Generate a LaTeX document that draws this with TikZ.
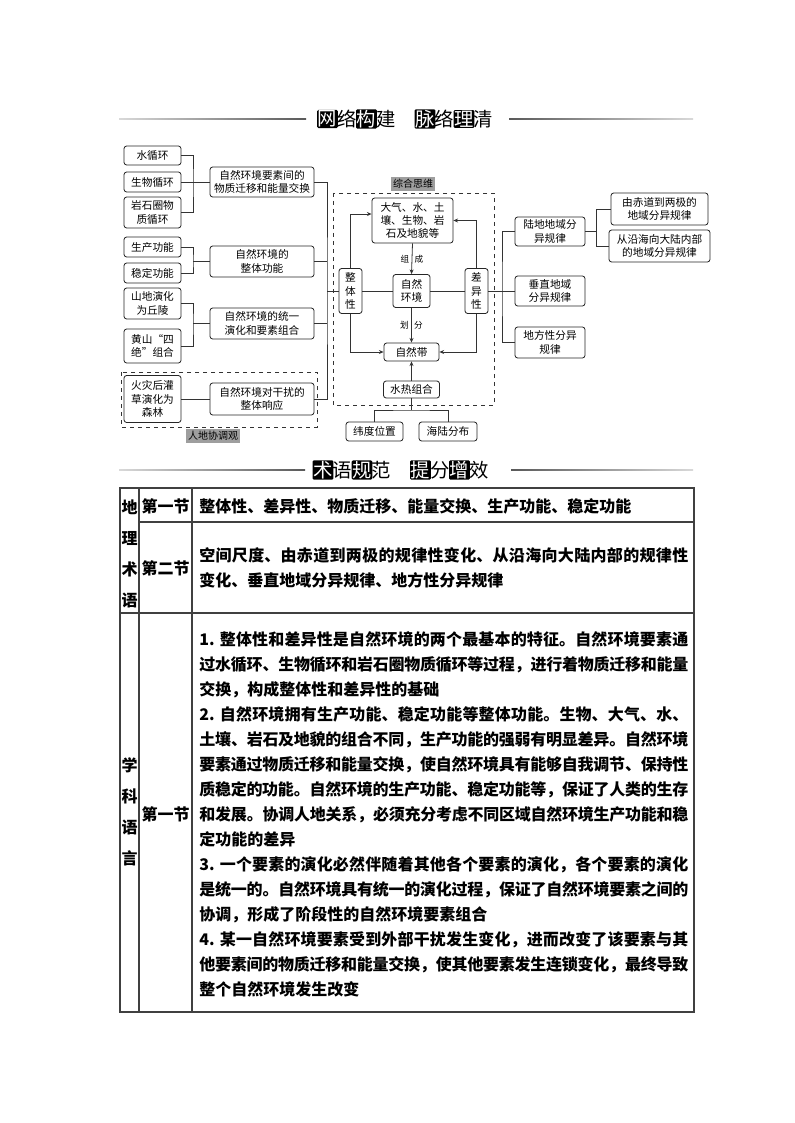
\documentclass[tikz,border=0pt]{standalone}
\usepackage{fontspec}
\newfontfamily\cjk{Noto Sans CJK SC}
\usetikzlibrary{arrows.meta}
\XeTeXlinebreaklocale "zh"
\XeTeXlinebreakskip=0pt plus 2pt minus 0.8pt
\setlength{\parindent}{0pt}
\begin{document}
\begin{tikzpicture}[x=0.75pt,y=-0.75pt,font=\cjk,
  bx/.style={draw=black!85,line width=0.6pt,rounded corners=2pt,align=center,inner sep=0pt,font=\cjk\fontsize{8}{10}\selectfont},
  ln/.style={draw=black!80,line width=0.6pt},
  >={Stealth[length=3.5pt,width=3pt]},
  lbl/.style={inner sep=0pt,font=\cjk\fontsize{6.5}{8}\selectfont},
  tag/.style={fill=black!38,inner sep=1.5pt,font=\cjk\fontsize{7.5}{9}\selectfont},
  frame/.style={draw=black!80,line width=0.6pt,dashed},
  hd/.style={inner sep=0.6pt,font=\cjk\fontsize{14.5}{16}\selectfont},
  hdk/.style={hd,fill=black,text=white,rounded corners=1pt},
  tb/.style={draw=black!75,line width=0.8pt},
  cell/.style={inner sep=0pt,align=left,font=\cjk\bfseries\fontsize{12}{18.75}\selectfont},
  para/.style={cell,anchor=west,text width=366.75pt,align=justify}]
\fill[white] (0,0) rectangle (794,1123);
\useasboundingbox (0,0) rectangle (794,1123);
% header 1
\shade[left color=black!15,right color=black!65] (119,118.2) rectangle (306,119.8);
\shade[left color=black!65,right color=black!15] (509,118.2) rectangle (693,119.8);
\node[hdk] (h1a) at (327.5,119) {网}; \node[hd] (h1b) at (347,119) {络}; \node[hdk] (h1c) at (366.5,119) {构}; \node[hd] (h1d) at (386,119) {建};
\node[hdk] (h1e) at (425,119) {脉}; \node[hd] (h1f) at (444.5,119) {络}; \node[hdk] (h1g) at (464,119) {理}; \node[hd] (h1h) at (483.5,119) {清};
% left column
\node[bx,minimum width=42.75pt,minimum height=14.25pt] (sxh) at (152.5,155.5) {水循环};
\node[bx,minimum width=42.75pt,minimum height=15pt] (swxh) at (152.5,182) {生物循环};
\node[bx,minimum width=42.75pt,minimum height=23.25pt] (ysq) at (152.5,212.5) {岩石圈物\\质循环};
\node[bx,minimum width=42.75pt,minimum height=15pt] (scgn) at (152.5,247) {生产功能};
\node[bx,minimum width=42.75pt,minimum height=15pt] (wdgn) at (152.5,273) {稳定功能};
\node[bx,minimum width=42.75pt,minimum height=23.25pt] (sdyh) at (152.5,303.5) {山地演化\\为丘陵};
\node[bx,minimum width=42.75pt,minimum height=25.5pt] (hsjs) at (152.5,346) {黄山“四\\绝”组合};
\node[bx,minimum width=42.75pt,minimum height=35.25pt] (hzh) at (152.5,399) {火灾后灌\\草演化为\\森林};
% middle column
\node[bx,minimum width=78pt,minimum height=22.5pt] (wzqy) at (262,182) {自然环境要素间的\\物质迁移和能量交换};
\node[bx,minimum width=78pt,minimum height=23.25pt] (ztgn) at (262,261.5) {自然环境的\\整体功能};
\node[bx,minimum width=78pt,minimum height=23.25pt] (tyyh) at (262,323.5) {自然环境的统一\\演化和要素组合};
\node[bx,minimum width=78pt,minimum height=24pt] (grxy) at (262,399) {自然环境对干扰的\\整体响应};
\coordinate (g1) at (193,182); \coordinate (g2) at (193,261.5); \coordinate (g3) at (193,323.5);
\draw[ln] (sxh.east) -| (g1) |- (ysq.east); \draw[ln] (swxh.east) -- (wzqy.west);
\draw[ln] (scgn.east) -| (g2) |- (wdgn.east); \draw[ln] (g2) -- (ztgn.west);
\draw[ln] (sdyh.east) -| (g3) |- (hsjs.east); \draw[ln] (g3) -- (tyyh.west);
\draw[ln] (hzh.east) -- (grxy.west);
\draw[frame] (121,372) rectangle (317,427);
\node[tag] (rdxt) at (213,436) {人地协调观};
% centre
\draw[frame] (333,193) rectangle (494,405);
\node[tag] (zhsw) at (413,184) {综合思维};
\node[bx,minimum width=60.75pt,minimum height=33.75pt] (dq) at (412.5,220.5) {大气、水、土\\壤、生物、岩\\石及地貌等};
\node[bx,minimum width=17.25pt,minimum height=33.75pt] (ztx) at (350.5,291) {整\\体\\性};
\node[bx,minimum width=27.75pt,minimum height=24.75pt] (zrhj) at (411.5,291) {自然\\环境};
\node[bx,minimum width=17.25pt,minimum height=33.75pt] (cyx) at (476.5,291) {差\\异\\性};
\node[bx,minimum width=41.25pt,minimum height=13.5pt] (zrd) at (411.5,352) {自然带};
\node[bx,minimum width=42pt,minimum height=12.75pt] (srzh) at (411.5,389.5) {水热组合};
\node[bx,minimum width=42.75pt,minimum height=14.25pt] (wdwz) at (374.5,431.5) {纬度位置};
\node[bx,minimum width=43.5pt,minimum height=14.25pt] (hlfb) at (448,431.5) {海陆分布};
\coordinate (g5) at (327,291); \coordinate (g6) at (411.5,410);
\draw[ln] (wzqy.east) -| (g5) |- (grxy.east); \draw[ln] (ztgn.east) -- (ztgn.east -| g5); \draw[ln] (tyyh.east) -- (tyyh.east -| g5);
\draw[ln] (g5) -- (ztx.west); \draw[ln] (ztx) -- (zrhj); \draw[ln] (zrhj) -- (cyx);
\draw[ln,->] (ztx.north) |- (dq.171); \draw[ln,->] (cyx.north) |- (dq.east);
\draw[ln,->] (ztx.south) |- (zrd.west); \draw[ln,->] (cyx.south) |- (zrd.east);
\draw[ln,->] (dq.south) -- node[lbl]{组\hspace{4pt}成} (zrhj.north);
\draw[ln,->] (zrhj.south) -- node[lbl]{划\hspace{4pt}分} (zrd.north);
\draw[ln,->] (srzh) -- (zrd);
\draw[ln] (srzh.south) -- (g6); \draw[ln] (wdwz.north) |- (g6) -| (hlfb.north);
% right column
\node[bx,minimum width=52.5pt,minimum height=21.75pt] (ldfy) at (550,231.5) {陆地地域分\\异规律};
\node[bx,minimum width=52.5pt,minimum height=22.5pt] (czfy) at (550,291) {垂直地域\\分异规律};
\node[bx,minimum width=52.5pt,minimum height=23.25pt] (dfx) at (550,342.5) {地方性分异\\规律};
\node[bx,minimum width=72.75pt,minimum height=24pt] (cdlj) at (659.5,209) {由赤道到两极的\\地域分异规律};
\node[bx,minimum width=75.75pt,minimum height=24pt] (yhnl) at (659.5,246) {从沿海向大陆内部\\的地域分异规律};
\coordinate (g7) at (502,291); \coordinate (g8) at (596,231.5);
\draw[ln] (cyx) -- (czfy); \draw[ln] (ldfy.west) -| (g7) |- (dfx.west);
\draw[ln] (ldfy) -- (g8); \draw[ln] (cdlj.west) -| (g8) |- (yhnl.west);
% header 2
\shade[left color=black!15,right color=black!65] (119,469.2) rectangle (305,470.8);
\shade[left color=black!65,right color=black!15] (511,469.2) rectangle (693,470.8);
\node[hdk] (h2a) at (323,470) {术}; \node[hd] (h2b) at (342.5,470) {语}; \node[hdk] (h2c) at (362,470) {规}; \node[hd] (h2d) at (381.5,470) {范};
\node[hdk] (h2e) at (420.5,470) {提}; \node[hd] (h2f) at (440,470) {分}; \node[hdk] (h2g) at (459.5,470) {增}; \node[hd] (h2h) at (479,470) {效};
% table
\draw[tb] (120,488) rectangle (694,1012);
\draw[tb] (139,488) -- (139,1012); \draw[tb] (192,488) -- (192,1012);
\draw[tb] (139,522) -- (694,522); \draw[tb] (120,613) -- (694,613);
\node[cell,font=\cjk\bfseries\fontsize{12}{23.25}\selectfont] (dlsy) at (129.5,553.5) {地\\理\\术\\语};
\node[cell,font=\cjk\bfseries\fontsize{12}{23.25}\selectfont] (xkyy) at (129.5,812) {学\\科\\语\\言};
\node[cell] (j1) at (165.5,506) {第一节}; \node[cell] (j2) at (165.5,568) {第二节}; \node[cell] (j3) at (165.5,814) {第一节};
\node[cell,anchor=west] (t1) at (199,506) {整体性、差异性、物质迁移、能量交换、生产功能、稳定功能};
\node[para] (t2) at (199,568) {空间尺度、由赤道到两极的规律性变化、从沿海向大陆内部的规律性\linebreak
变化、垂直地域分异规律、地方性分异规律};
\node[para] (t3) at (199,814) {1. 整体性和差异性是自然环境的两个最基本的特征。自然环境要素通\linebreak
过水循环、生物循环和岩石圈物质循环等过程，进行着物质迁移和能量\linebreak
交换，构成整体性和差异性的基础\\
2. 自然环境拥有生产功能、稳定功能等整体功能。生物、大气、水、\linebreak
土壤、岩石及地貌的组合不同，生产功能的强弱有明显差异。自然环境\linebreak
要素通过物质迁移和能量交换，使自然环境具有能够自我调节、保持性\linebreak
质稳定的功能。自然环境的生产功能、稳定功能等，保证了人类的生存\linebreak
和发展。协调人地关系，必须充分考虑不同区域自然环境生产功能和稳\linebreak
定功能的差异\\
3. 一个要素的演化必然伴随着其他各个要素的演化，各个要素的演化\linebreak
是统一的。自然环境具有统一的演化过程，保证了自然环境要素之间的\linebreak
协调，形成了阶段性的自然环境要素组合\\
4. 某一自然环境要素受到外部干扰发生变化，进而改变了该要素与其\linebreak
他要素间的物质迁移和能量交换，使其他要素发生连锁变化，最终导致\linebreak
整个自然环境发生改变};
\end{tikzpicture}
\end{document}
